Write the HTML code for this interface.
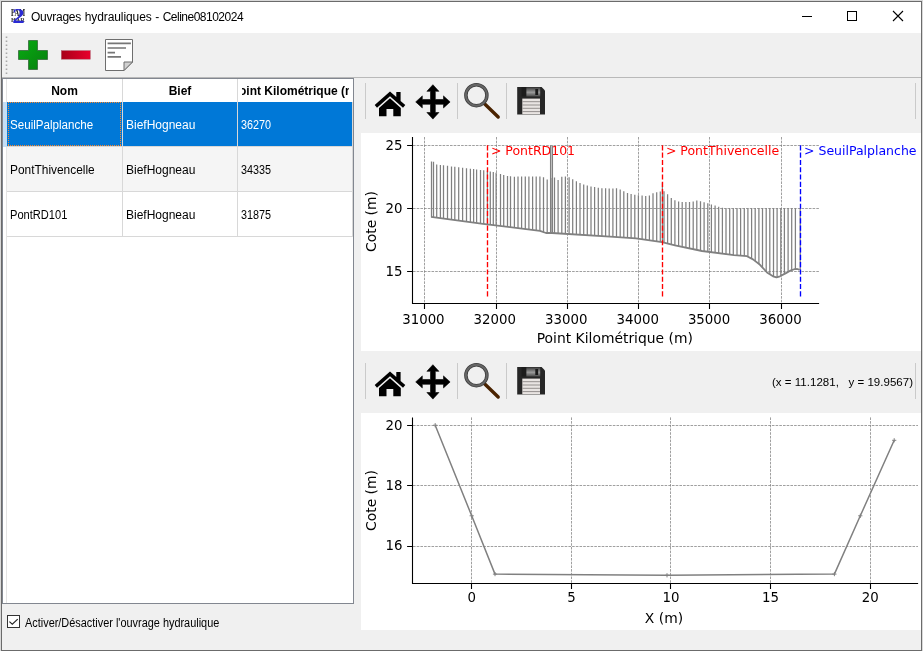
<!DOCTYPE html>
<html lang="fr"><head><meta charset="utf-8"><title>Ouvrages hydrauliques</title>
<style>
html,body{margin:0;padding:0}
body{width:923px;height:651px;overflow:hidden;background:#d9d9d9;position:relative;font-family:"Liberation Sans","DejaVu Sans",sans-serif;font-size:12px;color:#000}
.win{position:absolute;left:1px;top:1px;width:919px;height:648px;border:1px solid #6b6b6b;background:#f0f0f0}
.abs,.cv{position:absolute}
.title{left:2px;top:2px;width:919px;height:31px;background:#fff}
.ttxt{letter-spacing:-0.25px;word-spacing:0.5px;left:31px;top:9px;height:16px;line-height:16px;font-size:12px;white-space:nowrap;transform-origin:0 50%}
.mt text.an{font-size:12.5px}
.mt text.lb{font-size:13.89px}
.mt text{font-family:"DejaVu Sans","Liberation Sans",sans-serif;font-size:13.33px}
.tbl{left:2px;top:78px;width:350px;height:524px;border:1px solid #828790;background:#fff}
.hd{top:80px;height:23px;line-height:23px;font-weight:bold;text-align:center;font-size:12px;white-space:nowrap;overflow:hidden}
.cell{transform-origin:0 50%;height:44px;line-height:44px;white-space:nowrap;font-size:12px}
.gl{background:#d8d8d8}
</style></head><body>
<div class="win"></div>
<div class="abs title"></div>
<!-- window icon -->
<svg class="cv" style="left:10px;top:8px" width="17" height="17" viewBox="0 0 17 17">
<text x="0.9" y="7.9" font-family="Liberation Serif,serif" font-size="10" font-weight="bold" fill="#1a1a1a" textLength="14.3" lengthAdjust="spacingAndGlyphs">PAM</text>
<text x="0.9" y="13.7" font-family="Liberation Serif,serif" font-size="7" font-weight="bold" fill="#333" textLength="14" lengthAdjust="spacingAndGlyphs">HAR</text>
<text transform="translate(2.300,14.600) scale(1.25,1)" font-family="Liberation Serif,serif" font-weight="bold" font-size="20" fill="#2a2ad4">2</text>
</svg>
<div class="abs ttxt"><span>Ouvrages</span> <span style="letter-spacing:-0.08px">hydrauliques</span> - <span style="letter-spacing:-0.5px">Celine08102024</span></div>
<!-- caption buttons -->
<svg class="cv" style="left:780px;top:2px" width="141" height="31" viewBox="780 2 141 31">
<path d="M802 16.5h10" stroke="#000" stroke-width="1"/>
<rect x="847.5" y="11.5" width="9" height="9" fill="none" stroke="#000" stroke-width="1"/>
<path d="M893 11l10 10M903 11l-10 10" stroke="#000" stroke-width="1.1"/>
</svg>
<!-- toolbar -->
<svg class="cv" style="left:2px;top:33px" width="200" height="45" viewBox="2 33 200 45">
<defs>
<linearGradient id="gg" x1="0" y1="0" x2="1" y2="1"><stop offset="0" stop-color="#08ac12"/><stop offset="1" stop-color="#077e0e"/></linearGradient>
<linearGradient id="rg" x1="0" y1="0" x2="1" y2="0"><stop offset="0" stop-color="#a80018"/><stop offset="1" stop-color="#e8002c"/></linearGradient>
</defs>
<path d="M6.5 36.5v40" stroke="#a8a8a8" stroke-width="1.6" stroke-dasharray="1.6 2.4"/>
<path d="M28.5 40.5h9v10h10v9h-10v10h-9v-10h-10v-9h10z" fill="url(#gg)" stroke="#2c5c30" stroke-width="0.7" stroke-linejoin="round"/>
<rect x="61.3" y="50.6" width="29" height="8.6" fill="url(#rg)" stroke="#b06070" stroke-width="0.5"/>
<path d="M105.5 39.5h27v22.500l-8.500 8.500h-18.500z" fill="#fff" stroke="#6e6e6e" stroke-width="1"/>
<path d="M124 70.500v-8.500h8.500z" fill="#d0d0d0" stroke="#6e6e6e" stroke-width="1" stroke-linejoin="round"/>
<path d="M107.600 43.400h23.300M107.600 48h18.400M107.600 52.600h7.400M107.600 56.900h13.400" stroke="#767676" stroke-width="1.7"/>
</svg>
<div class="abs" style="left:2px;top:77px;width:919px;height:1px;background:#b9b9b9"></div>
<!-- table -->
<div class="abs tbl"></div>
<div class="abs" style="left:6px;top:79px;width:1px;height:524px;background:#e4e4e4"></div>
<div class="abs hd" style="left:7px;width:115px">Nom</div>
<div class="abs hd" style="left:123px;width:114px">Bief</div>
<div class="abs hd" style="left:242px;width:107px;text-align:left"><span id="h3" style="position:absolute;left:-11px">Point Kilométrique (m)</span></div>
<div class="abs gl" style="left:122px;top:79px;width:1px;height:158px"></div>
<div class="abs gl" style="left:237px;top:79px;width:1px;height:158px"></div>
<div class="abs gl" style="left:352px;top:102px;width:1px;height:135px"></div>
<div class="abs" style="left:3px;top:102px;width:4px;height:45px;background:#c4def5"></div>
<div class="abs" style="left:7px;top:102px;width:345px;height:45px;background:#0078d7"></div>
<div class="abs" style="left:122px;top:102px;width:1px;height:45px;background:#d8d8d8"></div>
<div class="abs" style="left:237px;top:102px;width:1px;height:45px;background:#d8d8d8"></div>
<div class="abs" style="left:8px;top:102px;width:113px;height:1px;background:repeating-linear-gradient(90deg,#ff8728 0 1px,transparent 1px 2px)"></div>
<div class="abs" style="left:8px;top:145px;width:113px;height:1px;background:repeating-linear-gradient(90deg,#ff8728 0 1px,transparent 1px 2px)"></div>
<div class="abs" style="left:8px;top:102px;width:1px;height:44px;background:repeating-linear-gradient(180deg,#ff8728 0 1px,transparent 1px 2px)"></div>
<div class="abs" style="left:120px;top:102px;width:1px;height:44px;background:repeating-linear-gradient(180deg,#ff8728 0 1px,transparent 1px 2px)"></div>
<div class="abs" style="left:7px;top:147px;width:345px;height:44px;background:#f5f5f5"></div>
<div class="abs gl" style="left:122px;top:147px;width:1px;height:90px"></div>
<div class="abs gl" style="left:237px;top:147px;width:1px;height:90px"></div>
<div class="abs gl" style="left:7px;top:146px;width:346px;height:1px;background:#d8d8d8"></div>
<div class="abs gl" style="left:7px;top:191px;width:346px;height:1px"></div>
<div class="abs gl" style="left:7px;top:236px;width:346px;height:1px"></div>
<div class="abs cell" style="left:10px;top:103px;color:#fff;transform:scaleX(.967)">SeuilPalplanche</div>
<div class="abs cell" style="left:126px;top:103px;color:#fff">BiefHogneau</div>
<div class="abs cell" style="left:241px;top:103px;color:#fff;transform:scaleX(.9)">36270</div>
<div class="abs cell" style="left:10px;top:148px;transform:scaleX(.992)">PontThivencelle</div>
<div class="abs cell" style="left:126px;top:148px">BiefHogneau</div>
<div class="abs cell" style="left:241px;top:148px;transform:scaleX(.9)">34335</div>
<div class="abs cell" style="left:10px;top:193px;transform:scaleX(.925)">PontRD101</div>
<div class="abs cell" style="left:126px;top:193px">BiefHogneau</div>
<div class="abs cell" style="left:241px;top:193px;transform:scaleX(.9)">31875</div>
<!-- checkbox -->
<div class="abs" style="left:7px;top:615px;width:11px;height:11px;border:1px solid #333;background:#fff"></div>
<svg class="cv" style="left:7px;top:615px" width="13" height="13" viewBox="0 0 13 13"><path d="M2.400 6.600L5.300 9.200L10.700 4.100" stroke="#222" stroke-width="1.15" fill="none"/></svg>
<div class="abs" id="cbl" style="left:25px;top:615px;transform-origin:0 50%;transform:scaleX(.909);height:17px;line-height:17px;white-space:nowrap;font-size:12px">Activer/Désactiver l'ouvrage hydraulique</div>
<!-- right side -->
<svg class="cv" style="left:354px;top:78px" width="567" height="55" viewBox="354 78 567 55">
<path d="M365.5 83v36M457.5 83v36M506.5 83v36M915.5 83v36" stroke="#cacaca" stroke-width="1" fill="none"/>
<defs><linearGradient id="sg78" x1="0" y1="0" x2="0" y2="1"><stop offset="0" stop-color="#3a3a3a"/><stop offset="0.55" stop-color="#9a9a9a"/><stop offset="1" stop-color="#4a4a4a"/></linearGradient></defs>
<!-- home -->
<g fill="#000">
<path d="M390 91.6 L374.7 105.1 L377 107.7 L390 96.3 L403 107.7 L405.3 105.1 L400.6 100.9 V92.1 H396.3 V97.1 Z"/>
<path d="M390 98.3 L379 107.9 V116.3 H386.5 V108.9 H393.3 V116.3 H400.8 V107.9 Z"/>
</g>
<!-- move -->
<path d="M432.9 84.7l6.0 6.6h-3.6v8.2h8.2v-3.6l6.6 6.0l-6.6 6.0v-3.6h-8.2v8.2h3.6l-6.0 6.6l-6.0 -6.6h3.6v-8.2h-8.2v3.6l-6.6 -6.0l6.6 -6.0v3.6h8.2v-8.2h-3.6z" fill="#000" stroke="#000" stroke-width="0.6" stroke-linejoin="round"/>
<!-- zoom -->
<path d="M484.5 103.8 L498.2 117" stroke="#4a2300" stroke-width="3.4" stroke-linecap="round"/>
<circle cx="476.4" cy="95.2" r="10.5" fill="none" stroke="#3c3c3c" stroke-width="3.5"/>
<circle cx="476.4" cy="95.2" r="10.5" fill="none" stroke="#666" stroke-width="1.9"/>
<!-- save -->
<path d="M517.2 87 H541.6 L545 90.4 V114.6 H517.2 Z" fill="#262626"/>
<rect x="521.5" y="87" width="5" height="9.5" fill="#1c1c1c"/><rect x="526.4" y="87.3" width="13.8" height="9.2" fill="url(#sg78)"/>
<rect x="535.3" y="89" width="2.8" height="6" fill="#1a1a1a"/>
<rect x="522.3" y="98.6" width="17.7" height="15.6" fill="#e8e4e2"/>
<path d="M522.3 101.7h17.7M522.3 105h17.7M522.3 108.3h17.7M522.3 111.6h17.7" stroke="#8a8684" stroke-width="0.9"/>
</svg>
<svg class="cv" style="left:361px;top:133px" width="560" height="218" viewBox="361 133 560 218">
<rect x="361" y="133" width="560" height="218" fill="#fff"/>
<path d="M424.5 137V303M496.5 137V303M567.5 137V303M638.5 137V303M709.5 137V303M781.5 137V303M413 145.5H819M413 208.5H819M413 271.5H819" stroke="#808080" stroke-width="0.75" stroke-dasharray="2.6 1.1" fill="none"/>
<path d="M431.5 161.5V217.0M433.5 161.8V217.2M436.7 164.4V217.7M440.4 164.9V218.1M443.5 165.3V218.6M447.5 165.8V219.1M451.5 166.4V219.6M454.8 166.8V220.1M458.7 167.3V220.6M462.6 167.8V221.1M466.5 168.2V221.6M470.4 168.7V222.1M473.6 169.1V222.6M476.6 169.4V223.0M480.5 169.9V223.5M483.7 170.2V223.9M487.4 170.7V224.3M490.3 171.4V224.7M493.3 172.1V225.1M496.1 172.8V225.4M500.5 174.0V225.9M503.7 174.9V226.3M507.5 175.9V226.8M510.5 176.2V227.2M514.4 176.7V227.7M518.0 176.6V228.1M521.6 176.6V228.5M525.3 176.6V229.0M528.9 176.6V229.4M532.6 176.5V229.9M536.2 176.5V230.3M539.9 176.5V230.8M543.5 177.2V232.1M547.2 179.5V233.0M550.8 178.0V233.0M554.5 177.6V233.2M558.1 179.9V233.4M561.8 176.8V233.6M565.4 176.6V233.9M569.1 177.2V234.1M572.7 179.2V234.3M576.4 181.2V234.6M580.0 183.0V234.8M583.7 184.6V235.0M587.3 185.5V235.3M591.0 186.4V235.5M594.6 187.1V235.7M598.3 187.8V236.0M601.9 188.2V236.2M605.6 188.3V236.4M609.2 188.5V236.7M612.9 188.5V236.9M616.5 188.3V237.1M620.2 189.6V237.4M623.8 191.2V237.6M627.5 193.0V237.8M631.1 193.9V238.1M634.8 194.7V238.3M638.4 195.2V238.7M642.1 195.6V239.3M645.7 195.9V239.8M649.4 195.6V240.3M653.0 193.3V240.8M656.7 192.3V241.3M660.3 191.5V241.9M664.0 191.2V242.6M667.6 194.2V243.5M671.3 198.1V244.4M674.9 200.3V245.3M678.6 201.6V246.1M682.2 202.0V246.8M685.9 202.0V247.6M689.5 202.0V248.4M693.2 201.4V249.1M696.8 200.6V249.9M700.5 201.2V250.7M704.1 202.2V251.3M707.8 203.2V251.7M711.4 204.4V252.2M715.1 205.6V252.7M718.7 206.7V253.1M722.4 207.7V253.6M726.0 208.3V254.1M729.7 208.3V254.5M733.3 208.3V255.0M737.0 208.3V255.4M740.6 208.3V255.7M744.3 208.3V256.0M747.9 208.3V256.7M751.6 208.3V258.7M755.2 208.3V261.1M758.9 208.3V264.0M762.5 208.3V267.6M766.2 208.3V271.5M769.8 208.3V274.3M773.5 208.3V276.5M777.1 208.3V277.2M780.8 208.3V275.9M784.4 208.3V273.9M788.1 208.3V271.9M791.7 208.3V270.1M795.4 208.3V269.0M662.4 182.5V242.1M800.2 208.3V269.9" stroke="#808080" stroke-width="1.25" fill="none"/>
<path d="M431.0 216.9L483.0 223.8L540.0 230.8L546.0 233.0L552.0 233.0L610.0 236.7L636.0 238.4L662.0 242.1L675.0 245.3L702.0 251.0L734.0 255.1L747.0 256.2L753.0 259.4L760.0 264.8L767.0 272.4L773.0 276.3L776.5 277.4L780.0 276.3L786.0 273.1L791.0 270.3L795.0 269.0L798.0 269.2L799.6 269.9" stroke="#808080" stroke-width="1.8" fill="none" stroke-linejoin="round"/>
<path d="M487.5 145.3V296.5M662.5 145.3V296.5" stroke="#ff0000" stroke-width="1.35" stroke-dasharray="5.1 2.2" fill="none"/>
<path d="M800.5 145.3V296.5" stroke="#0000ff" stroke-width="1.35" stroke-dasharray="5.1 2.2" fill="none"/>
<path d="M412.5 137V304.05M411.95 303.5H819.1" stroke="#000" stroke-width="1.1" fill="none"/>
<path d="M424.5 304v4.9M496.5 304v4.9M567.5 304v4.9M638.5 304v4.9M709.5 304v4.9M781.5 304v4.9M412 145.5h-4.9M412 208.5h-4.9M412 271.5h-4.9" stroke="#000" stroke-width="1.1" fill="none"/>
<g class="mt">
<text x="490.9" y="155.2" fill="#ff0000" class="an">&gt; PontRD101</text>
<text x="665.9" y="155.2" fill="#ff0000" class="an">&gt; PontThivencelle</text>
<text x="804" y="155.2" fill="#0000ff" class="an">&gt; SeuilPalplanche</text>
<text x="402.4" y="150.3" text-anchor="end">25</text>
<text x="402.4" y="213.3" text-anchor="end">20</text>
<text x="402.4" y="276.3" text-anchor="end">15</text>
<text x="423.4" y="324" text-anchor="middle">31000</text>
<text x="494.8" y="324" text-anchor="middle">32000</text>
<text x="566.2" y="324" text-anchor="middle">33000</text>
<text x="637.7" y="324" text-anchor="middle">34000</text>
<text x="709.1" y="324" text-anchor="middle">35000</text>
<text x="780.5" y="324" text-anchor="middle">36000</text>
<text x="614.8" y="343.3" text-anchor="middle" class="lb">Point Kilométrique (m)</text>
<text transform="translate(376,221.5) rotate(-90)" text-anchor="middle" class="lb">Cote (m)</text>
</g>
<path d="M550.6 145.5V233M552.4 145.5V233" stroke="#808080" stroke-width="1.3" fill="none"/>
</svg>
<svg class="cv" style="left:354px;top:358px" width="567" height="55" viewBox="354 78 567 55">
<path d="M365.5 83v36M457.5 83v36M506.5 83v36M915.5 83v36" stroke="#cacaca" stroke-width="1" fill="none"/>
<defs><linearGradient id="sg358" x1="0" y1="0" x2="0" y2="1"><stop offset="0" stop-color="#3a3a3a"/><stop offset="0.55" stop-color="#9a9a9a"/><stop offset="1" stop-color="#4a4a4a"/></linearGradient></defs>
<!-- home -->
<g fill="#000">
<path d="M390 91.6 L374.7 105.1 L377 107.7 L390 96.3 L403 107.7 L405.3 105.1 L400.6 100.9 V92.1 H396.3 V97.1 Z"/>
<path d="M390 98.3 L379 107.9 V116.3 H386.5 V108.9 H393.3 V116.3 H400.8 V107.9 Z"/>
</g>
<!-- move -->
<path d="M432.9 84.7l6.0 6.6h-3.6v8.2h8.2v-3.6l6.6 6.0l-6.6 6.0v-3.6h-8.2v8.2h3.6l-6.0 6.6l-6.0 -6.6h3.6v-8.2h-8.2v3.6l-6.6 -6.0l6.6 -6.0v3.6h8.2v-8.2h-3.6z" fill="#000" stroke="#000" stroke-width="0.6" stroke-linejoin="round"/>
<!-- zoom -->
<path d="M484.5 103.8 L498.2 117" stroke="#4a2300" stroke-width="3.4" stroke-linecap="round"/>
<circle cx="476.4" cy="95.2" r="10.5" fill="none" stroke="#3c3c3c" stroke-width="3.5"/>
<circle cx="476.4" cy="95.2" r="10.5" fill="none" stroke="#666" stroke-width="1.9"/>
<!-- save -->
<path d="M517.2 87 H541.6 L545 90.4 V114.6 H517.2 Z" fill="#262626"/>
<rect x="521.5" y="87" width="5" height="9.5" fill="#1c1c1c"/><rect x="526.4" y="87.3" width="13.8" height="9.2" fill="url(#sg358)"/>
<rect x="535.3" y="89" width="2.8" height="6" fill="#1a1a1a"/>
<rect x="522.3" y="98.6" width="17.7" height="15.6" fill="#e8e4e2"/>
<path d="M522.3 101.7h17.7M522.3 105h17.7M522.3 108.3h17.7M522.3 111.6h17.7" stroke="#8a8684" stroke-width="0.9"/>
</svg>
<div class="abs" id="coord" style="right:10px;letter-spacing:0.02px;top:374px;height:16px;line-height:16px;font-size:11.5px;white-space:pre">(x = 11.1281,   y = 19.9567)</div>
<svg class="cv" style="left:361px;top:413px" width="560" height="217" viewBox="361 413 560 217">
<rect x="361" y="413" width="560" height="217" fill="#fff"/>
<path d="M471.5 417.4V583M571.5 417.4V583M670.5 417.4V583M770.5 417.4V583M870.5 417.4V583M413 425.5H918M413 485.5H918M413 546.5H918" stroke="#808080" stroke-width="0.75" stroke-dasharray="2.6 1.1" fill="none"/>
<path d="M435.2 425.2L471.7 515.8L495.0 574.1L667.0 575.3L834.4 574.1L860.3 515.8L894.2 440.3" stroke="#808080" stroke-width="1.5" fill="none" stroke-linejoin="round"/>
<path d="M433.1 425.2h4.2M435.2 423.1v4.2M469.6 515.8h4.2M471.7 513.7v4.2M492.9 574.1h4.2M495.0 572.0v4.2M664.9 575.3h4.2M667.0 573.2v4.2M832.3 574.1h4.2M834.4 572.0v4.2M858.2 515.8h4.2M860.3 513.7v4.2M892.1 440.3h4.2M894.2 438.2v4.2" stroke="#808080" stroke-width="1" fill="none"/>
<path d="M412.5 417.4V584.05M411.95 583.5H918.1" stroke="#000" stroke-width="1.1" fill="none"/>
<path d="M471.5 584v4.9M571.5 584v4.9M670.5 584v4.9M770.5 584v4.9M870.5 584v4.9M412 425.5h-4.9M412 485.5h-4.9M412 546.5h-4.9" stroke="#000" stroke-width="1.1" fill="none"/>
<g class="mt">
<text x="402.4" y="429.6" text-anchor="end">20</text>
<text x="402.4" y="489.7" text-anchor="end">18</text>
<text x="402.4" y="550.4" text-anchor="end">16</text>
<text x="471.7" y="602.3" text-anchor="middle">0</text>
<text x="571.4" y="602.3" text-anchor="middle">5</text>
<text x="671.0" y="602.3" text-anchor="middle">10</text>
<text x="770.6" y="602.3" text-anchor="middle">15</text>
<text x="870.3" y="602.3" text-anchor="middle">20</text>
<text x="664" y="622.5" text-anchor="middle" class="lb">X (m)</text>
<text transform="translate(376,500.5) rotate(-90)" text-anchor="middle" class="lb">Cote (m)</text>
</g>
</svg>
</body></html>
